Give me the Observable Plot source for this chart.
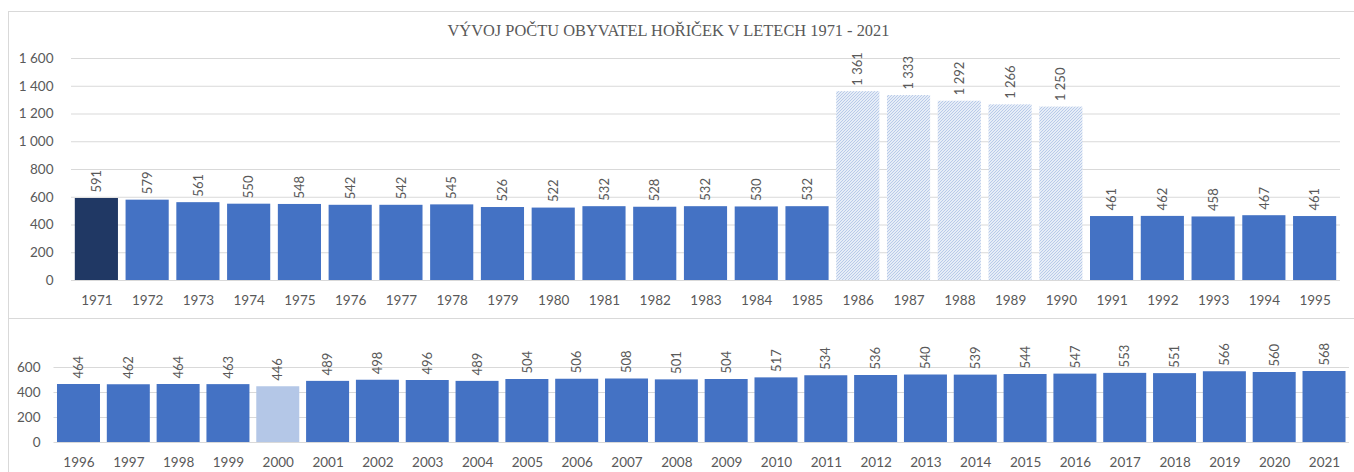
<!DOCTYPE html>
<html><head><meta charset="utf-8">
<script src="https://cdn.jsdelivr.net/npm/d3@7"></script>
<script src="https://cdn.jsdelivr.net/npm/@observablehq/plot@0.6"></script>
<style>
html,body{margin:0;padding:0;background:#fff;overflow:hidden;width:1354px;height:472px;}
#top{position:absolute;left:8px;top:11px;width:1360px;height:306px;border:1px solid #d9d9d9;}
#bottom{position:absolute;left:8px;top:319px;width:1360px;height:160px;border-left:1px solid #d9d9d9;}
#title{width:1319px;height:30px;box-sizing:border-box;padding-top:10px;line-height:18px;text-align:center;font-family:"Liberation Serif","DejaVu Serif",serif;font-size:16.4px;color:#595959;}
svg.plot{background:transparent;overflow:visible;}
</style>
</head><body>
<svg width="0" height="0" style="position:absolute">
  <defs>
    <pattern id="hatch" patternUnits="userSpaceOnUse" width="3" height="3">
      <rect width="3" height="3" fill="#e6edf7"></rect>
      <path d="M-1,1 l2,-2 M0,3 l3,-3 M2,4 l2,-2" stroke="#b3c6e8" stroke-width="0.9"></path>
    </pattern>
  </defs>
</svg>
<div id="top"><div id="title">VÝVOJ POČTU OBYVATEL HOŘIČEK V LETECH 1971 - 2021</div></div>
<div id="bottom"></div>
<script>
const topYears = ["1971","1972","1973","1974","1975","1976","1977","1978","1979","1980","1981","1982","1983","1984","1985","1986","1987","1988","1989","1990","1991","1992","1993","1994","1995"];
const topValues = [591,579,561,550,548,542,542,545,526,522,532,528,532,530,532,1361,1333,1292,1266,1250,461,462,458,467,461];
const bottomYears = ["1996","1997","1998","1999","2000","2001","2002","2003","2004","2005","2006","2007","2008","2009","2010","2011","2012","2013","2014","2015","2016","2017","2018","2019","2020","2021"];
const bottomValues = [464,462,464,463,446,489,498,496,489,504,506,508,501,504,517,534,536,540,539,544,547,553,551,566,560,568];
const darkYears = ["1971"];
const hatchedYears = ["1986","1987","1988","1989","1990"];
const lightYears = ["2000"];
const topTicks = [0,200,400,600,800,1000,1200,1400,1600];
const bottomTicks = [0,200,400,600];

const fmt = d3.formatLocale({decimal:",", thousands:" ", grouping:[3], currency:["",""]}).format(",");
const topData = topYears.map((year, i) => ({year, value: topValues[i]}));
const bottomData = bottomYears.map((year, i) => ({year, value: bottomValues[i]}));

const colorOf = y => darkYears.includes(y) ? "#203864" : hatchedYears.includes(y) ? "url(#hatch)" : lightYears.includes(y) ? "#b4c7e7" : "#4472c4";
const groups = ["#203864", "url(#hatch)", "#b4c7e7", "#4472c4"];

function chart(data, years, ticks, yMax, opts) {
  return Plot.plot({
    width: 1344,
    height: opts.height,
    marginLeft: opts.ml, marginRight: opts.mr, marginTop: opts.mt, marginBottom: opts.mb,
    style: {fontFamily: "Lato, 'Open Sans', sans-serif", fontSize: "13.5px", color: "#595959", background: "transparent", overflow: "visible"},
    x: {type: "band", domain: years, round: false, paddingInner: opts.pi, paddingOuter: opts.po, tickSize: 0, tickPadding: 15, label: null},
    y: {domain: [0, yMax], ticks, tickSize: 0, tickPadding: opts.tp, tickFormat: fmt, label: null},
    marks: [
      Plot.ruleY(ticks, {stroke: "#d9d9d9", strokeWidth: 1}),
      ...groups.map(c => Plot.barY(data.filter(d => colorOf(d.year) === c), {x: "year", y: "value", fill: c})),
      Plot.text(data, {x: "year", y: "value", text: d => fmt(d.value), rotate: -90, textAnchor: "start", dy: -6, fill: "#595959", fontSize: 13})
    ]
  });
}

document.getElementById("top").appendChild(chart(topData, topYears, topTicks, 1600,
  {height: 276, ml: 62, mr: 13, mt: 16, mb: 38, pi: 0.15, po: 0.075, tp: 18}));
document.getElementById("bottom").appendChild(chart(bottomData, bottomYears, bottomTicks, 600,
  {height: 153, ml: 44.5, mr: 4, mt: 48, mb: 30, pi: 0.137, po: 0.07, tp: 13.5}));
</script>
</body></html>
